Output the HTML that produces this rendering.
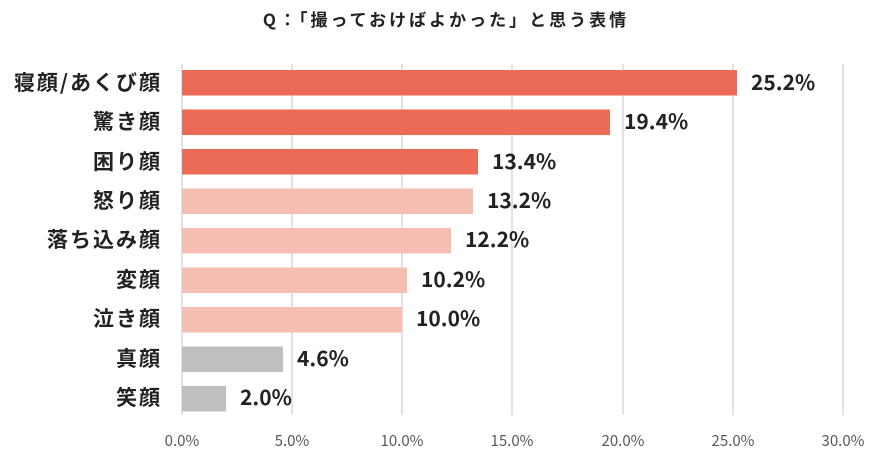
<!DOCTYPE html>
<html><head><meta charset="utf-8"><style>
body{margin:0;background:#fff;}
svg text{font-family:"Noto Sans CJK JP","Liberation Sans",sans-serif;}
</style></head><body>
<svg width="891" height="459" xmlns="http://www.w3.org/2000/svg">
<text x="446" y="26" text-anchor="middle" font-size="17" font-weight="bold" fill="#222" letter-spacing="3">Q：「撮っておけばよかった」と思う表情</text>
<g stroke="#d9d9d9" stroke-width="1.5">
<line x1="182" y1="64" x2="182" y2="415"/>
<line x1="292" y1="64" x2="292" y2="415"/>
<line x1="402" y1="64" x2="402" y2="415"/>
<line x1="512" y1="64" x2="512" y2="415"/>
<line x1="623" y1="64" x2="623" y2="415"/>
<line x1="733" y1="64" x2="733" y2="415"/>
<line x1="843" y1="64" x2="843" y2="415"/>
</g>
<g font-size="15" fill="#595959" text-anchor="middle">
<text x="182" y="446">0.0%</text><text x="292" y="446">5.0%</text><text x="402" y="446">10.0%</text><text x="512" y="446">15.0%</text><text x="623" y="446">20.0%</text><text x="733" y="446">25.0%</text><text x="843" y="446">30.0%</text>
</g>
<g>
<rect x="182" y="70" width="555" height="25.5" fill="#ec6b56"/>
<rect x="182" y="109.5" width="428" height="25.5" fill="#ec6b56"/>
<rect x="182" y="149" width="296" height="25.5" fill="#ec6b56"/>
<rect x="182" y="188.5" width="291" height="25.5" fill="#f6bdb3"/>
<rect x="182" y="228" width="269" height="25.5" fill="#f6bdb3"/>
<rect x="182" y="267.5" width="225" height="25.5" fill="#f6bdb3"/>
<rect x="182" y="307" width="220" height="25.5" fill="#f6bdb3"/>
<rect x="182" y="346.5" width="101" height="25.5" fill="#bfbfbf"/>
<rect x="182" y="386" width="44" height="25.5" fill="#bfbfbf"/>
</g>
<g font-size="21" font-weight="bold" fill="#222" text-anchor="end" letter-spacing="2">
<text x="162" y="90">寝顔/あくび顔</text>
<text x="162" y="129">驚き顔</text>
<text x="162" y="169">困り顔</text>
<text x="162" y="208">怒り顔</text>
<text x="162" y="247">落ち込み顔</text>
<text x="162" y="287">変顔</text>
<text x="162" y="326">泣き顔</text>
<text x="162" y="366">真顔</text>
<text x="162" y="405">笑顔</text>
</g>
<g font-size="21" font-weight="bold" fill="#222">
<text x="751" y="90">25.2%</text>
<text x="624" y="129">19.4%</text>
<text x="492" y="169">13.4%</text>
<text x="487" y="208">13.2%</text>
<text x="465" y="247">12.2%</text>
<text x="421" y="287">10.2%</text>
<text x="416" y="326">10.0%</text>
<text x="297" y="366">4.6%</text>
<text x="240" y="405">2.0%</text>
</g>
</svg>
</body></html>
